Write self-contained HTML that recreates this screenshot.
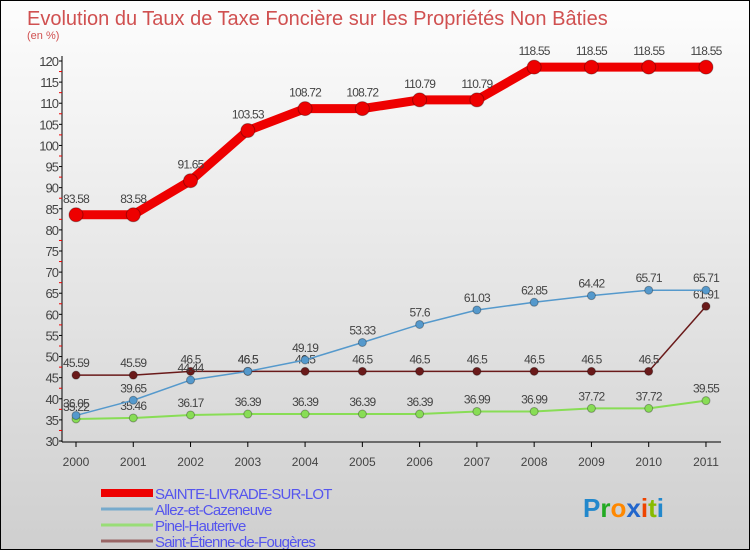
<!DOCTYPE html>
<html><head><meta charset="utf-8"><style>
body{margin:0}
#c{width:750px;height:550px;position:relative;background:linear-gradient(#fdfdfd,#cfcfcf);box-sizing:border-box;border:1px solid #000;overflow:hidden;font-family:"Liberation Sans",sans-serif}
</style></head><body>
<div id="c">
<svg id="s" width="750" height="550" style="position:absolute;left:0;top:0"></svg>
</div>
<script>
const years=["2000","2001","2002","2003","2004","2005","2006","2007","2008","2009","2010","2011"];
const red=[83.58,83.58,91.65,103.53,108.72,108.72,110.79,110.79,118.55,118.55,118.55,118.55];
const blue=[36.05,39.65,44.44,46.5,49.19,53.33,57.6,61.03,62.85,64.42,65.71,65.71];
const green=[35.22,35.46,36.17,36.39,36.39,36.39,36.39,36.99,36.99,37.72,37.72,39.55];
const brown=[45.59,45.59,46.5,46.5,46.5,46.5,46.5,46.5,46.5,46.5,46.5,61.91];
const yTicks=[30,35,40,45,50,55,60,65,70,75,80,85,90,95,100,105,110,115,120];
const s=document.getElementById('s');const NS="http://www.w3.org/2000/svg";
function X(i){return 75+i*57.27}
function Y(v){return 60+(120-v)*380/90}
function el(t,a,txt){const e=document.createElementNS(NS,t);for(const k in a)e.setAttribute(k,a[k]);if(txt!==undefined)e.textContent=txt;s.appendChild(e);return e}
let t=el('text',{x:26,y:24,'font-size':20,fill:'#d05050'},'Evolution du Taux de Taxe Foncière sur les Propriétés Non Bâties');

t=el('text',{x:26,y:38,'font-size':11,fill:'#d05050'},'(en %)');

let a=el('line',{x1:61,y1:55,x2:61,y2:441,stroke:'#000'});

a=el('line',{x1:61,y1:441,x2:720,y2:441,stroke:'#000'});

yTicks.forEach(v=>{el('line',{x1:58,y1:Y(v),x2:61,y2:Y(v),stroke:'#000'});
 if(v<120)el('line',{x1:58,y1:Y(v+2.5),x2:61,y2:Y(v+2.5),stroke:'#e00'});
 const l=el('text',{x:57,y:Y(v)+5,'font-size':13,fill:'#444','text-anchor':'end','letter-spacing':'-1'},v);
 });
years.forEach((y,i)=>{el('line',{x1:X(i),y1:441,x2:X(i),y2:446,stroke:'#000'});
 const l=el('text',{x:X(i),y:465,'font-size':12,fill:'#444','text-anchor':'middle'},y);
 });
function series(d,col,w,r,name,lblOff){
 const p=el('polyline',{points:d.map((v,i)=>X(i)+','+Y(v)).join(' '),fill:'none',stroke:col,'stroke-width':w,'stroke-linejoin':'round'});
 
 d.forEach((v,i)=>{const c=el('circle',{cx:X(i),cy:Y(v),r:r,fill:col,stroke:'rgba(0,0,0,0.3)'});
 
 const l=el('text',{x:X(i),y:Y(v)+lblOff,'font-size':12,fill:'#444','text-anchor':'middle','letter-spacing':'-0.8'},v);
 });
}
series(green,'#88dd55',2,4,'pinel',-8);
series(brown,'#6a1a1a',1.5,4,'saint-etienne',-8);
series(blue,'#5599cc',1.5,4,'allez',-8);
series(red,'#ee0000',9,7,'sainte-livrade',-12);
const leg=[['SAINTE-LIVRADE-SUR-LOT','#ee0000',8],['Allez-et-Cazeneuve','#77aacc',3],['Pinel-Hauterive','#99dd77',3],['Saint-Étienne-de-Fougères','#996666',3]];
leg.forEach((g,i)=>{const y=492+i*16;
 const l=el('line',{x1:100,y1:y,x2:152,y2:y,stroke:g[1],'stroke-width':g[2]});
 const tx=el('text',{x:154,y:y+6,'font-size':15,fill:'#5555ee','letter-spacing':'-0.8'},g[0]);});
const lg=el('text',{x:582,y:516,'font-size':26,'font-weight':'bold'});
[['P','#2288cc'],['r','#22aa22'],['o','#ff8800'],['x','#2266cc'],['i','#ee4400'],['t','#88bb00'],['i','#2288cc']].forEach(c=>{const sp=document.createElementNS(NS,'tspan');sp.setAttribute('fill',c[1]);sp.textContent=c[0];lg.appendChild(sp);});
</script>
</body></html>
